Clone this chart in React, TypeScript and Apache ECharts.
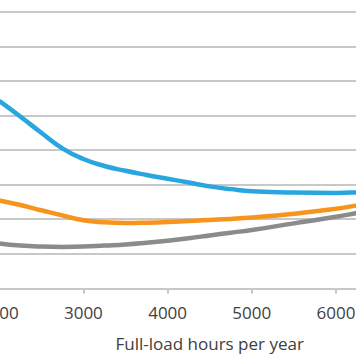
import React, { useEffect, useRef } from "react";
import * as echarts from "echarts";

const hours = [2000, 2250, 2500, 2750, 3000, 3250, 3500, 3750, 4000, 4250, 4500, 4750, 5000, 5500, 6000, 6250, 6500];
const blueSeries = [5.42, 4.97, 4.5, 4.05, 3.74, 3.54, 3.4, 3.28, 3.17, 3.06, 2.95, 2.87, 2.81, 2.77, 2.76, 2.78, 2.82];
const orangeSeries = [2.54, 2.41, 2.26, 2.11, 1.97, 1.91, 1.89, 1.9, 1.92, 1.95, 1.98, 2.01, 2.05, 2.16, 2.3, 2.4, 2.5];
const graySeries = [1.3, 1.24, 1.21, 1.2, 1.21, 1.24, 1.27, 1.32, 1.38, 1.45, 1.53, 1.61, 1.69, 1.88, 2.07, 2.18, 2.27];
const xTicks = [2000, 3000, 4000, 5000, 6000, 7000];

const FONT = "'Open Sans', 'Noto Sans', sans-serif";

export default function App() {
  const ref = useRef<HTMLDivElement>(null);
  useEffect(() => {
    if (!ref.current) return;
    const chart = echarts.init(ref.current, undefined, { renderer: "svg" });
    const mk = (vals: number[]) => hours.map((h, i) => [h, vals[i]]);
    chart.setOption({
      animation: false,
      grid: { left: 49.2, right: 49.8, top: 11.7, bottom: 75.6 },
      xAxis: {
        type: "value",
        min: xTicks[0],
        max: xTicks[xTicks.length - 1],
        interval: 1000,
        name: "Full-load hours per year",
        nameLocation: "middle",
        nameGap: 47,
        nameTextStyle: { color: "#404040", fontFamily: FONT, fontSize: 17 },
        axisLine: { show: true, lineStyle: { color: "#c8c8c8", width: 2 } },
        axisTick: { show: true, length: 5, lineStyle: { color: "#c8c8c8", width: 2 } },
        axisLabel: {
          color: "#404040",
          fontFamily: FONT,
          fontSize: 17,
          margin: 16,
          formatter: (v: number) => String(v),
        },
        splitLine: { show: false },
      },
      yAxis: {
        type: "value",
        min: 0,
        max: 8,
        interval: 1,
        axisLine: { show: false },
        axisTick: { show: false },
        axisLabel: { show: false },
        splitLine: { show: true, lineStyle: { color: "#c8c8c8", width: 2 } },
      },
      series: [
        { type: "line", data: mk(graySeries), smooth: 0.5, showSymbol: false, lineStyle: { color: "#8b8b8d", width: 4.5 } },
        { type: "line", data: mk(orangeSeries), smooth: 0.5, showSymbol: false, lineStyle: { color: "#f7941d", width: 4.5 } },
        { type: "line", data: mk(blueSeries), smooth: 0.5, showSymbol: false, lineStyle: { color: "#29a6de", width: 4.5 } },
      ],
    });
    return () => chart.dispose();
  }, []);
  return (
    <div
      ref={ref}
      style={{ position: "fixed", left: -50, top: 0, width: 520, height: 364, background: "#fff" }}
    />
  );
}
